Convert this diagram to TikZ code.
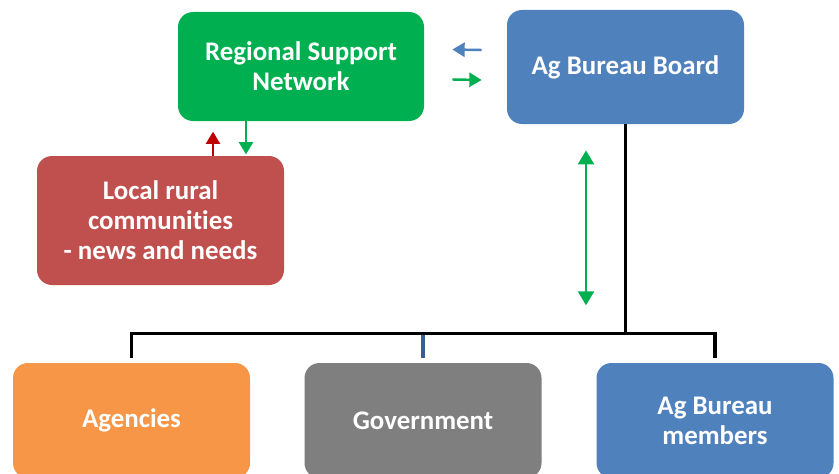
\documentclass[tikz,border=0pt]{standalone}
\usepackage{fontspec}
\setmainfont{Carlito}[Ligatures={NoCommon}]
\usetikzlibrary{positioning,calc,arrows.meta}
\definecolor{rsngreen}{RGB}{0, 176, 80}
\definecolor{boardblue}{RGB}{79, 129, 189}
\definecolor{localred}{RGB}{192, 80, 77}
\definecolor{agencyorange}{RGB}{247, 150, 70}
\definecolor{govgrey}{RGB}{127, 127, 127}
\definecolor{upred}{RGB}{192, 0, 0}
\definecolor{govline}{RGB}{58, 95, 140}

\tikzset{
  box/.style={rounded corners=0.3cm, text=white, align=center,
    font=\fontsize{15.3}{17}\selectfont\bfseries, inner sep=0pt},
  topbox/.style={box, minimum width=4.8cm, minimum height=2.2cm},
  lowbox/.style={box, minimum width=4.74cm, minimum height=2.3cm},
  tree/.style={line width=2pt, black},
  smallarr/.style={line width=1.4pt, -{Triangle[length=7pt,width=8pt]}},
  longarr/.style={line width=1.6pt, {Triangle[length=8pt,width=9pt]}-{Triangle[length=8pt,width=9pt]}, rsngreen}
}

\begin{document}
\begin{tikzpicture}
  \clip (0,0) rectangle (16.78,9.46);
  \fill[white] (0,0) rectangle (16.78,9.46);

  % top row
  \node[topbox, fill=rsngreen, minimum width=4.92cm, minimum height=2.18cm] (rsn) at (6.02,8.13) {Regional Support\\Network};
  \node[topbox, fill=boardblue, minimum width=4.74cm, minimum height=2.28cm] (board) at (12.51,8.12) {Ag Bureau Board};

  % local communities
  \node[box, fill=localred, minimum width=4.94cm, minimum height=2.58cm] (local) at (3.21,5.05) {Local rural\\communities\\- news and needs};

  % bottom row
  \node[lowbox, fill=agencyorange] (agencies) at (2.63,1.05) {Agencies};
  \node[lowbox, fill=govgrey] (gov) at (8.46,1.05) {Government};
  \node[lowbox, fill=boardblue] (members) at (14.30,1.05) {Ag Bureau\\members};

  % small arrows between network and board
  \draw[smallarr, boardblue] ([xshift=-0.5cm,yshift=0.34cm]board.west) -- ([xshift=0.56cm,yshift=0.34cm]rsn.east);
  \draw[smallarr, rsngreen] ([xshift=0.56cm,yshift=-0.26cm]rsn.east) -- ([xshift=-0.5cm,yshift=-0.26cm]board.west);

  % between network and local communities
  \draw[smallarr, upred] ([xshift=1.05cm]local.north) -- ([xshift=1.05cm,yshift=0.48cm]local.north);
  \draw[smallarr, rsngreen] ([xshift=-1.1cm]rsn.south) -- ([xshift=-1.1cm,yshift=-0.66cm]rsn.south);

  % board to bottom row
  \coordinate (bus) at ($(board.south)+(0,-4.18)$);
  \draw[longarr] ([xshift=-0.79cm,yshift=-0.52cm]board.south) -- ([xshift=-0.79cm,yshift=-3.62cm]board.south);
  \draw[tree] (board.south) -- (bus);
  \draw[tree] ([yshift=0.1cm]agencies.north) |- (bus) -| ([yshift=0.1cm]members.north);
  \draw[line width=2pt, govline] ([yshift=0.1cm]gov.north) -- ([yshift=-1pt]gov.north |- bus);
\end{tikzpicture}
\end{document}
